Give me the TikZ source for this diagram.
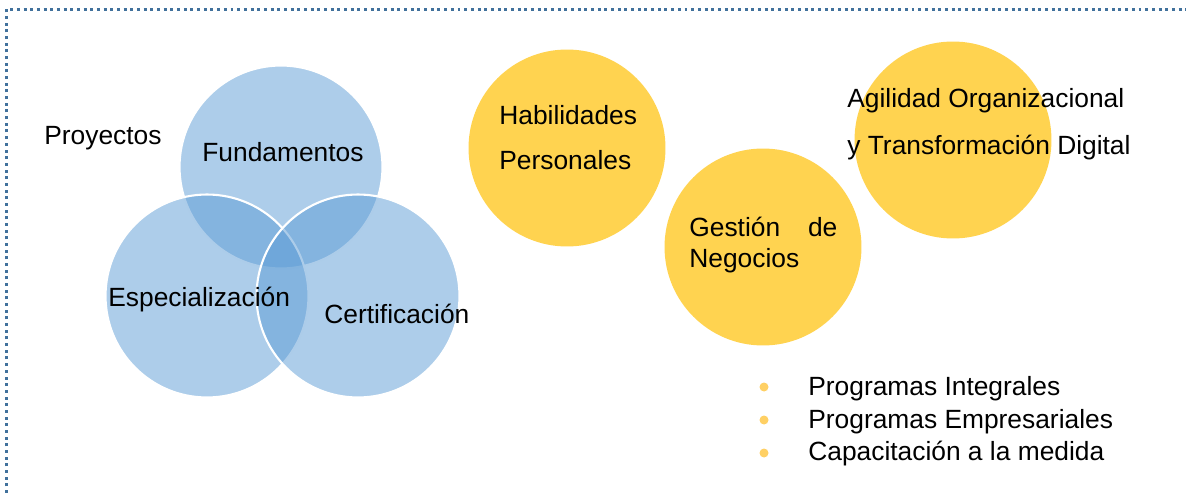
\documentclass[tikz,border=0pt]{standalone}
\usepackage{fontspec}
\setmainfont{Liberation Sans}
\usetikzlibrary{positioning}
\definecolor{vennblue}{RGB}{91,155,213}
\definecolor{sunyellow}{RGB}{255,211,80}
\definecolor{dotyellow}{RGB}{255,208,100}
\definecolor{framecol}{RGB}{65,113,156}

\begin{document}
\begin{tikzpicture}[x=0.02cm,y=-0.02cm,
	bluec/.style={circle,fill=vennblue,fill opacity=.5,draw=white,line width=1.2pt,minimum size=4.06cm,inner sep=0pt},
	yellowc/.style={circle,fill=sunyellow,minimum size=3.94cm,inner sep=0pt},
	lbl/.style={anchor=base west,inner sep=0pt,font=\fontsize{15}{18}\selectfont},
	bul/.style={circle,fill=dotyellow,minimum size=0.18cm,inner sep=0pt}]
			\useasboundingbox (0,0) rectangle (1186,493);
			\draw[framecol,line width=1.7pt,dash pattern=on 1.7pt off 2.1pt] (6.5,493) -- (6.5,9.3) -- (1186,9.3);
			
			\node[bluec] (fund) at (281,167) {};
			\node[bluec] (espe) at (207,296) {};
			\node[bluec] (cert) at (358,296) {};
			\node[lbl] (proy) at (44,145) {Proyectos};
			\node[lbl] (fundt) at (202,162) {Fundamentos};
			\node[lbl] (espet) at (108,306) {Especialización};
			\node[lbl] (certt) at (324,323) {Certificación};
			
			\node[yellowc] (habi) at (567,148) {};
			\node[yellowc] (gest) at (763,247) {};
			\node[yellowc] (agil) at (953,140) {};
			\node[lbl] (habit) at (499,125) {Habilidades};
			\node[lbl] (perst) at (499,170) {Personales};
			\node[lbl] (gestt) at (689,236) {\makebox[2.96cm][s]{Gestión de}};
			\node[lbl] (negot) at (689,267) {Negocios};
			\node[lbl] (agilt) at (847,108) {Agilidad Organizacional};
			\node[lbl] (trant) at (847,155) {y Transformación Digital};
			
			\node[bul] (b1) at (764,387) {}; \node[lbl] (p1) at (808,395) {Programas Integrales};
			\node[bul] (b2) at (764,420) {}; \node[lbl] (p2) at (808,428) {Programas Empresariales};
			\node[bul] (b3) at (764,453) {}; \node[lbl] (p3) at (808,460) {Capacitación a la medida};
\end{tikzpicture}
\end{document}
